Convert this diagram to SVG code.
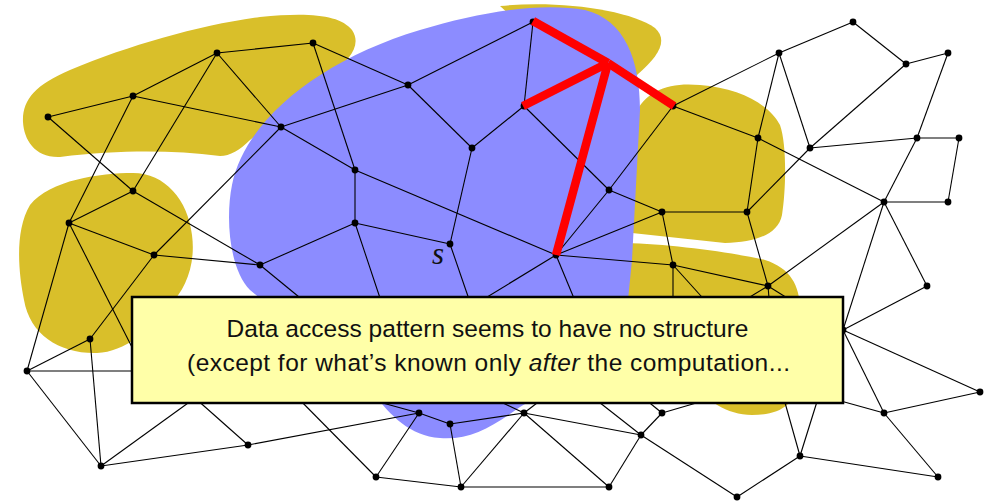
<svg xmlns="http://www.w3.org/2000/svg" width="985" height="502" viewBox="0 0 985 502">
<style>
.y{fill:#D9BF2A}
.b{fill:#8C8CFF}
.e line{stroke:#000;stroke-width:1.1}
.n circle{fill:#000}
.red line{stroke:#FF0000;stroke-width:8.5;stroke-linecap:butt}
.t{font-family:"Liberation Sans",Arial,sans-serif;font-size:24.5px;fill:#111;text-anchor:middle}
</style>
<defs>
<circle id="dot" r="3.4"/>
</defs>
<rect width="985" height="502" fill="#fff"/>
<g id="regions">
<path class="y" d="M23,122 C22,100 35,85 70,70 C130,45 200,25 260,17 C310,12 340,15 352,30 C362,45 350,60 330,75 L250,140 C240,150 230,156 220,156 C170,150 120,150 60,157 C35,158 24,140 23,122 Z"/>
<path class="y" d="M500,6 C560,0 630,10 655,28 C668,40 660,55 637,75 L560,60 Z"/>
<path class="y" d="M635,115 C645,90 670,82 700,85 C740,88 770,105 780,125 C787,145 786,190 782,215 C778,235 755,242 725,243 L632,233 L625,150 Z"/>
<path class="y" d="M625,243 C670,244 730,252 765,260 C790,268 800,285 800,310 L800,380 C795,405 780,415 752,415 C727,415 705,400 690,380 L620,300 Z"/>
<path class="y" d="M133,173 C165,173 188,200 192,235 C196,265 185,290 170,305 C150,330 125,352 97,353 C60,354 30,335 24,300 C18,270 15,230 30,205 C50,180 100,173 133,173 Z"/>
<path class="b" d="M250,290 C230,270 225,220 232,185 C245,120 320,60 420,30 C480,12 540,2 585,10 C625,20 640,60 640,110 L632,260 L625,330 C600,370 540,395 520,407 C490,428 470,440 440,438 C410,436 390,415 375,395 L250,290 Z"/>
</g>
<g id="edges" class="e">
<line x1="48" y1="117" x2="133" y2="96"/>
<line x1="133" y1="96" x2="217" y2="53"/>
<line x1="217" y1="53" x2="313" y2="43"/>
<line x1="217" y1="53" x2="281" y2="127"/>
<line x1="133" y1="96" x2="281" y2="127"/>
<line x1="48" y1="117" x2="133" y2="191"/>
<line x1="133" y1="96" x2="69" y2="223"/>
<line x1="217" y1="53" x2="133" y2="191"/>
<line x1="313" y1="43" x2="408" y2="85"/>
<line x1="408" y1="85" x2="281" y2="127"/>
<line x1="281" y1="127" x2="154" y2="255"/>
<line x1="313" y1="43" x2="355" y2="170"/>
<line x1="281" y1="127" x2="355" y2="170"/>
<line x1="408" y1="85" x2="472" y2="148"/>
<line x1="408" y1="85" x2="533" y2="22"/>
<line x1="472" y1="148" x2="450" y2="244"/>
<line x1="472" y1="148" x2="524" y2="106"/>
<line x1="533" y1="22" x2="524" y2="106"/>
<line x1="524" y1="106" x2="609" y2="190"/>
<line x1="673" y1="106" x2="779" y2="53"/>
<line x1="673" y1="106" x2="758" y2="138"/>
<line x1="673" y1="106" x2="609" y2="190"/>
<line x1="133" y1="191" x2="69" y2="223"/>
<line x1="69" y1="223" x2="154" y2="255"/>
<line x1="133" y1="191" x2="260" y2="265"/>
<line x1="154" y1="255" x2="260" y2="265"/>
<line x1="154" y1="255" x2="90" y2="339"/>
<line x1="69" y1="223" x2="27" y2="371"/>
<line x1="355" y1="170" x2="355" y2="223"/>
<line x1="355" y1="223" x2="450" y2="244"/>
<line x1="355" y1="223" x2="260" y2="265"/>
<line x1="355" y1="170" x2="556" y2="255"/>
<line x1="609" y1="190" x2="662" y2="212"/>
<line x1="609" y1="190" x2="556" y2="255"/>
<line x1="556" y1="255" x2="662" y2="212"/>
<line x1="556" y1="255" x2="673" y2="265"/>
<line x1="662" y1="212" x2="673" y2="265"/>
<line x1="673" y1="265" x2="768" y2="286"/>
<line x1="662" y1="212" x2="747" y2="212"/>
<line x1="779" y1="53" x2="853" y2="22"/>
<line x1="853" y1="22" x2="906" y2="64"/>
<line x1="906" y1="64" x2="948" y2="53"/>
<line x1="906" y1="64" x2="810" y2="148"/>
<line x1="948" y1="53" x2="917" y2="138"/>
<line x1="917" y1="138" x2="959" y2="138"/>
<line x1="959" y1="138" x2="948" y2="202"/>
<line x1="917" y1="138" x2="884" y2="202"/>
<line x1="779" y1="53" x2="758" y2="138"/>
<line x1="779" y1="53" x2="810" y2="148"/>
<line x1="758" y1="138" x2="884" y2="202"/>
<line x1="758" y1="138" x2="747" y2="212"/>
<line x1="810" y1="148" x2="917" y2="138"/>
<line x1="810" y1="148" x2="747" y2="212"/>
<line x1="747" y1="212" x2="768" y2="286"/>
<line x1="768" y1="286" x2="884" y2="202"/>
<line x1="884" y1="202" x2="948" y2="202"/>
<line x1="884" y1="202" x2="927" y2="286"/>
<line x1="884" y1="202" x2="843" y2="330"/>
<line x1="927" y1="286" x2="843" y2="330"/>
<line x1="843" y1="330" x2="980" y2="392"/>
<line x1="843" y1="330" x2="884" y2="413"/>
<line x1="884" y1="413" x2="980" y2="392"/>
<line x1="884" y1="413" x2="938" y2="477"/>
<line x1="800" y1="456" x2="938" y2="477"/>
<line x1="800" y1="456" x2="737" y2="497"/>
<line x1="641" y1="435" x2="737" y2="497"/>
<line x1="90" y1="339" x2="27" y2="371"/>
<line x1="90" y1="339" x2="101" y2="466"/>
<line x1="27" y1="371" x2="101" y2="466"/>
<line x1="101" y1="466" x2="248" y2="445"/>
<line x1="248" y1="445" x2="419" y2="413"/>
<line x1="376" y1="477" x2="419" y2="413"/>
<line x1="376" y1="477" x2="461" y2="487"/>
<line x1="450" y1="424" x2="461" y2="487"/>
<line x1="419" y1="413" x2="450" y2="424"/>
<line x1="450" y1="424" x2="524" y2="413"/>
<line x1="524" y1="413" x2="461" y2="487"/>
<line x1="524" y1="413" x2="641" y2="435"/>
<line x1="524" y1="413" x2="609" y2="487"/>
<line x1="641" y1="435" x2="662" y2="413"/>
<line x1="641" y1="435" x2="609" y2="487"/>
<line x1="461" y1="487" x2="609" y2="487"/>
<line x1="69" y1="223" x2="140" y2="363"/>
<line x1="27" y1="371" x2="150" y2="371"/>
<line x1="101" y1="466" x2="195" y2="398"/>
<line x1="248" y1="445" x2="195" y2="398"/>
<line x1="260" y1="265" x2="310" y2="306"/>
<line x1="355" y1="223" x2="384" y2="310"/>
<line x1="450" y1="244" x2="472" y2="308"/>
<line x1="556" y1="255" x2="474" y2="305"/>
<line x1="556" y1="255" x2="578" y2="308"/>
<line x1="673" y1="265" x2="673" y2="310"/>
<line x1="673" y1="265" x2="710" y2="306"/>
<line x1="768" y1="286" x2="735" y2="306"/>
<line x1="768" y1="286" x2="770" y2="310"/>
<line x1="768" y1="286" x2="800" y2="306"/>
<line x1="376" y1="477" x2="290" y2="390"/>
<line x1="419" y1="413" x2="350" y2="394"/>
<line x1="524" y1="413" x2="482" y2="393"/>
<line x1="524" y1="413" x2="550" y2="393"/>
<line x1="641" y1="435" x2="590" y2="395"/>
<line x1="662" y1="413" x2="640" y2="395"/>
<line x1="662" y1="413" x2="710" y2="399"/>
<line x1="800" y1="456" x2="782" y2="392"/>
<line x1="800" y1="456" x2="820" y2="392"/>
<line x1="884" y1="413" x2="830" y2="398"/>
</g>
<g class="n">
<g id="n-A"><use href="#dot" x="48" y="117"/></g>
<g id="n-B"><use href="#dot" x="133" y="96"/></g>
<g id="n-C"><use href="#dot" x="217" y="53"/></g>
<g id="n-D"><use href="#dot" x="313" y="43"/></g>
<g id="n-E"><use href="#dot" x="408" y="85"/></g>
<g id="n-F"><use href="#dot" x="281" y="127"/></g>
<g id="n-G"><use href="#dot" x="533" y="22"/></g>
<g id="n-H"><use href="#dot" x="524" y="106"/></g>
<g id="n-I"><use href="#dot" x="472" y="148"/></g>
<g id="n-J"><use href="#dot" x="355" y="170"/></g>
<g id="n-K"><use href="#dot" x="355" y="223"/></g>
<g id="n-L"><use href="#dot" x="450" y="244"/></g>
<g id="n-M"><use href="#dot" x="133" y="191"/></g>
<g id="n-N"><use href="#dot" x="69" y="223"/></g>
<g id="n-O"><use href="#dot" x="154" y="255"/></g>
<g id="n-P"><use href="#dot" x="260" y="265"/></g>
<g id="n-Q"><use href="#dot" x="609" y="190"/></g>
<g id="n-R"><use href="#dot" x="662" y="212"/></g>
<g id="n-S"><use href="#dot" x="556" y="255"/></g>
<g id="n-T"><use href="#dot" x="673" y="265"/></g>
<g id="n-U"><use href="#dot" x="673" y="106"/></g>
<g id="n-U2"><use href="#dot" x="758" y="138"/></g>
<g id="n-V"><use href="#dot" x="779" y="53"/></g>
<g id="n-W"><use href="#dot" x="853" y="22"/></g>
<g id="n-X"><use href="#dot" x="906" y="64"/></g>
<g id="n-Y"><use href="#dot" x="948" y="53"/></g>
<g id="n-Z"><use href="#dot" x="810" y="148"/></g>
<g id="n-AA"><use href="#dot" x="917" y="138"/></g>
<g id="n-AB"><use href="#dot" x="959" y="138"/></g>
<g id="n-AC"><use href="#dot" x="747" y="212"/></g>
<g id="n-AD"><use href="#dot" x="884" y="202"/></g>
<g id="n-AE"><use href="#dot" x="948" y="202"/></g>
<g id="n-AF"><use href="#dot" x="768" y="286"/></g>
<g id="n-AG"><use href="#dot" x="927" y="286"/></g>
<g id="n-AH"><use href="#dot" x="843" y="330"/></g>
<g id="n-AI"><use href="#dot" x="90" y="339"/></g>
<g id="n-AJ"><use href="#dot" x="27" y="371"/></g>
<g id="n-AK"><use href="#dot" x="101" y="466"/></g>
<g id="n-AL"><use href="#dot" x="248" y="445"/></g>
<g id="n-AM"><use href="#dot" x="419" y="413"/></g>
<g id="n-AN"><use href="#dot" x="450" y="424"/></g>
<g id="n-AO"><use href="#dot" x="376" y="477"/></g>
<g id="n-AP"><use href="#dot" x="461" y="487"/></g>
<g id="n-AQ"><use href="#dot" x="524" y="413"/></g>
<g id="n-AR"><use href="#dot" x="641" y="435"/></g>
<g id="n-AS"><use href="#dot" x="609" y="487"/></g>
<g id="n-AT"><use href="#dot" x="662" y="413"/></g>
<g id="n-AU"><use href="#dot" x="737" y="497"/></g>
<g id="n-AV"><use href="#dot" x="800" y="456"/></g>
<g id="n-AW"><use href="#dot" x="884" y="413"/></g>
<g id="n-AX"><use href="#dot" x="980" y="392"/></g>
<g id="n-AY"><use href="#dot" x="938" y="477"/></g>
</g>
<g id="tree" class="red">
<line x1="608" y1="63" x2="533" y2="21"/>
<line x1="608" y1="63" x2="674" y2="106"/>
<line x1="608" y1="63" x2="523" y2="106"/>
<line x1="608" y1="63" x2="556" y2="255"/>
</g>
<text id="label-s" x="438" y="264" font-family="'Liberation Serif',serif" font-style="italic" font-size="31" text-anchor="middle" fill="#111">s</text>
<g id="note">
<rect x="132" y="297" width="711" height="106" fill="#FFFFA8" stroke="#000" stroke-width="2.5"/>
<text class="t" x="487.5" y="337" textLength="522" lengthAdjust="spacing">Data access pattern seems to have no structure</text>
<text class="t" x="488.5" y="371" textLength="603" lengthAdjust="spacing">(except for what’s known only <tspan font-style="italic">after</tspan> the computation...</text>
</g>
</svg>
